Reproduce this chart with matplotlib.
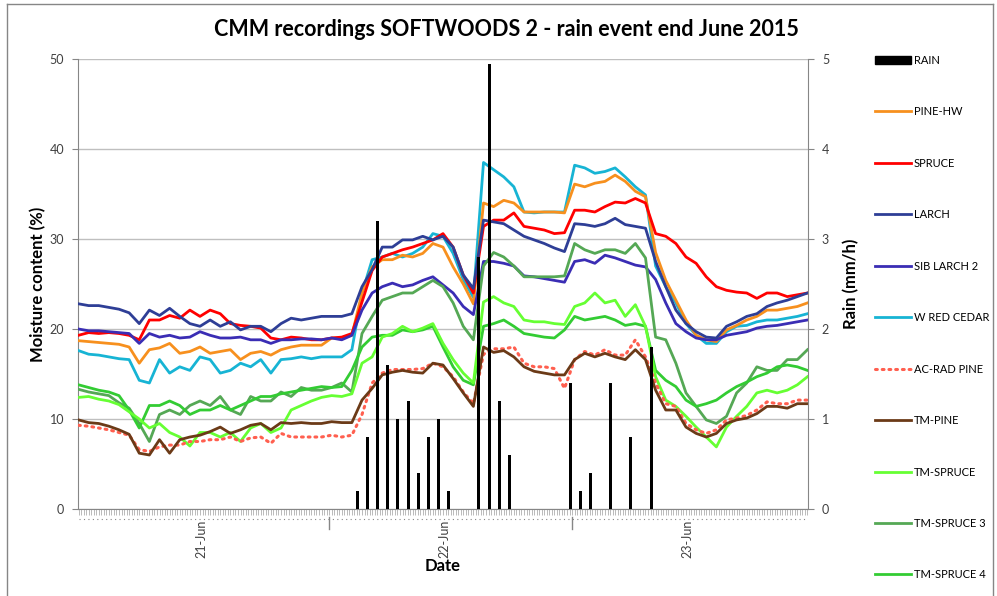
import numpy as np
import matplotlib
matplotlib.use("Agg")
import matplotlib.pyplot as plt
from matplotlib.lines import Line2D
from matplotlib.patches import Patch

plt.rcParams['font.family'] = ['Lato', 'DejaVu Sans']

# hourly readings, hours counted from 21-Jun 00:00
hours = np.arange(73) - 0.75

pine_hw = [18.7, 18.6, 18.5, 18.4, 18.3, 18.0, 16.2, 17.7, 17.9, 18.4, 17.3, 17.5, 18.0, 17.3, 17.5, 17.7, 16.6, 17.3, 17.5, 17.1, 17.7, 18.0, 18.2, 18.2, 18.2,
           19.0, 19.0, 19.3, 24.0, 26.9, 27.7, 27.7, 28.2, 28.0, 28.4, 29.5, 29.1, 26.9, 25.0, 22.8, 34.0, 33.6, 34.3, 34.0, 33.0, 33.0, 33.0, 33.0, 32.9, 36.1,
           35.8, 36.2, 36.4, 37.1, 36.4, 35.3, 34.7, 28.5, 25.4, 23.2, 21.0, 19.3, 18.8, 18.6, 19.9, 20.4, 21.0, 21.4, 22.1, 22.1, 22.3, 22.5, 22.9]
spruce = [19.3, 19.6, 19.5, 19.6, 19.5, 19.3, 18.8, 21.0, 21.0, 21.5, 21.2, 22.1, 21.4, 22.1, 21.7, 20.6, 20.4, 20.3, 20.1, 19.0, 18.8, 19.1, 19.0, 18.8, 18.8,
          19.0, 19.1, 19.5, 23.0, 26.5, 28.0, 28.4, 28.8, 29.1, 29.5, 29.9, 30.6, 29.1, 26.0, 24.0, 31.4, 32.1, 32.1, 32.9, 31.4, 31.2, 31.0, 30.6, 30.7, 33.2,
          33.2, 33.0, 33.6, 34.1, 34.0, 34.5, 34.0, 30.6, 30.3, 29.5, 28.0, 27.3, 25.8, 24.7, 24.3, 24.1, 24.0, 23.4, 24.0, 24.0, 23.6, 23.8, 24.0]
larch = [22.8, 22.6, 22.6, 22.4, 22.2, 21.8, 20.6, 22.1, 21.5, 22.3, 21.4, 20.6, 20.3, 21.0, 20.3, 20.8, 19.9, 20.3, 20.3, 19.7, 20.6, 21.2, 21.0, 21.2, 21.4,
         21.4, 21.4, 21.7, 24.7, 26.6, 29.1, 29.1, 29.9, 29.9, 30.3, 29.9, 30.3, 29.1, 26.0, 24.5, 32.1, 31.9, 31.7, 31.0, 30.3, 29.9, 29.5, 29.0, 28.6, 31.7,
         31.6, 31.4, 31.7, 32.3, 31.6, 31.4, 31.2, 27.5, 24.7, 22.1, 20.6, 19.7, 19.1, 19.0, 20.3, 20.8, 21.4, 21.7, 22.5, 22.9, 23.2, 23.6, 24.0]
sib_larch2 = [20.0, 19.8, 19.8, 19.7, 19.6, 19.5, 18.4, 19.5, 19.1, 19.3, 19.0, 19.1, 19.7, 19.3, 19.0, 19.0, 19.1, 18.8, 18.8, 18.4, 18.8, 18.8, 18.9, 18.9, 18.8,
              19.0, 18.8, 19.3, 22.1, 24.0, 24.7, 25.1, 24.7, 24.9, 25.4, 25.8, 24.9, 24.0, 22.5, 21.6, 27.5, 27.5, 27.3, 27.0, 25.9, 25.8, 25.6, 25.4, 25.2, 27.5,
              27.7, 27.3, 28.2, 27.9, 27.5, 27.1, 26.9, 25.5, 22.9, 20.6, 19.7, 19.0, 18.8, 18.8, 19.3, 19.5, 19.7, 20.1, 20.3, 20.4, 20.6, 20.8, 21.0]
w_red_cedar = [17.6, 17.2, 17.1, 16.9, 16.7, 16.6, 14.3, 14.0, 16.6, 15.1, 15.8, 15.4, 16.9, 16.6, 15.1, 15.4, 16.2, 15.8, 16.6, 15.1, 16.6, 16.7, 16.9, 16.7, 16.9,
               16.9, 16.9, 17.7, 24.0, 27.7, 28.0, 28.4, 28.0, 28.4, 29.1, 30.6, 30.3, 28.4, 25.5, 23.5, 38.5, 37.7, 36.9, 35.8, 33.0, 32.9, 33.0, 33.0, 33.0, 38.2,
               37.9, 37.3, 37.5, 37.9, 36.9, 35.8, 34.9, 27.0, 24.7, 22.9, 20.6, 19.3, 18.4, 18.4, 19.7, 20.3, 20.4, 20.8, 21.0, 21.0, 21.2, 21.4, 21.7]
ac_rad_pine = [9.3, 9.2, 9.0, 8.8, 8.5, 8.2, 6.6, 6.4, 6.9, 7.1, 7.1, 7.5, 7.5, 7.7, 7.7, 8.0, 7.5, 7.9, 8.0, 7.3, 8.4, 8.0, 8.0, 8.0, 8.0,
               8.2, 8.0, 8.2, 10.5, 14.0, 15.1, 15.5, 15.5, 15.5, 15.6, 16.2, 15.8, 14.7, 13.0, 11.7, 17.2, 17.8, 17.8, 18.0, 16.2, 15.8, 15.8, 15.6, 13.4, 16.6,
               17.5, 17.1, 17.7, 17.1, 17.1, 18.8, 16.9, 14.0, 11.7, 11.4, 9.5, 8.8, 8.4, 8.8, 9.9, 10.1, 10.4, 11.0, 11.9, 11.7, 11.7, 12.1, 12.1]
tm_pine = [9.9, 9.6, 9.5, 9.2, 8.8, 8.3, 6.2, 6.0, 7.7, 6.2, 7.7, 8.0, 8.2, 8.6, 9.1, 8.4, 8.8, 9.3, 9.5, 8.8, 9.6, 9.5, 9.6, 9.5, 9.5,
           9.7, 9.6, 9.6, 12.1, 13.4, 14.9, 15.2, 15.4, 15.2, 15.1, 16.2, 16.0, 14.5, 12.9, 11.4, 18.0, 17.4, 17.6, 16.9, 15.8, 15.3, 15.1, 14.9, 14.9, 16.6,
           17.3, 16.9, 17.3, 16.9, 16.6, 17.7, 16.6, 13.2, 11.0, 11.0, 9.1, 8.4, 8.0, 8.4, 9.5, 9.9, 10.1, 10.6, 11.4, 11.4, 11.2, 11.7, 11.7]
tm_spruce = [12.4, 12.5, 12.2, 12.0, 11.6, 10.8, 10.0, 9.0, 9.5, 8.5, 8.0, 7.0, 8.5, 8.5, 8.0, 8.5, 7.5, 9.0, 9.5, 8.5, 9.0, 11.0, 11.5, 12.0, 12.4,
             12.6, 12.5, 12.8, 16.2, 16.9, 19.1, 19.5, 20.3, 19.7, 20.1, 20.6, 18.4, 16.6, 15.1, 14.0, 23.0, 23.6, 22.9, 22.5, 21.0, 20.8, 20.8, 20.6, 20.5, 22.5,
             22.9, 24.0, 22.9, 23.2, 21.4, 22.7, 20.3, 14.7, 12.1, 11.4, 10.3, 9.1, 8.0, 6.9, 9.1, 10.3, 11.4, 12.9, 13.2, 12.9, 13.2, 13.8, 14.7]
tm_spruce3 = [13.3, 13.0, 12.8, 12.6, 11.8, 11.2, 9.5, 7.5, 10.5, 11.0, 10.5, 11.5, 12.0, 11.5, 12.5, 11.0, 10.5, 12.5, 12.0, 12.0, 13.0, 12.5, 13.5, 13.2, 13.2,
              13.5, 14.0, 13.0, 19.5, 21.4, 23.2, 23.6, 24.0, 24.0, 24.7, 25.4, 24.7, 22.9, 20.3, 18.8, 27.0, 28.5, 28.0, 27.0, 25.8, 25.8, 25.8, 25.8, 25.9, 29.5,
              28.8, 28.4, 28.8, 28.8, 28.4, 29.5, 27.9, 19.1, 18.8, 16.2, 12.9, 11.4, 9.9, 9.5, 10.3, 12.9, 14.0, 15.8, 15.4, 15.4, 16.6, 16.6, 17.7]
tm_spruce4 = [13.8, 13.5, 13.2, 13.0, 12.6, 11.0, 9.0, 11.5, 11.5, 12.0, 11.5, 10.5, 11.0, 11.0, 11.5, 11.0, 11.5, 12.0, 12.5, 12.5, 12.8, 13.0, 13.2, 13.4, 13.6,
              13.5, 13.6, 15.4, 18.0, 19.1, 19.3, 19.3, 19.9, 19.7, 19.9, 20.3, 18.0, 15.8, 14.3, 13.8, 20.3, 20.6, 21.0, 20.3, 19.5, 19.3, 19.1, 19.0, 19.9, 21.4,
              21.0, 21.2, 21.4, 21.0, 20.4, 20.6, 20.3, 15.4, 14.3, 13.6, 12.1, 11.4, 11.7, 12.1, 12.9, 13.6, 14.1, 14.7, 15.1, 15.8, 16.0, 15.8, 15.4]

rain_hours = [26.8, 27.8, 28.8, 29.8, 30.8, 31.8, 32.8, 33.8, 34.8, 35.8, 38.8, 39.8, 40.8, 41.8,
              47.8, 48.8, 49.8, 51.8, 53.8, 55.8]
rain = [0.2, 0.8, 3.2, 1.6, 1.0, 1.2, 0.4, 0.8, 1.0, 0.2, 2.8, 4.95, 1.2, 0.6,
        1.4, 0.2, 0.4, 1.4, 0.8, 1.8]

day_labels = ["21-Jun", "22-Jun", "23-Jun"]
day_label_pos = [11.4, 35.4, 59.4]
day_bounds = [24.0, 48.0]

series = [
    ("PINE-HW", pine_hw, "#F7901E", "-"),
    ("SPRUCE", spruce, "#FF0000", "-"),
    ("LARCH", larch, "#2E3E96", "-"),
    ("SIB LARCH 2", sib_larch2, "#3A2DB4", "-"),
    ("W RED CEDAR", w_red_cedar, "#17B4D4", "-"),
    ("AC-RAD PINE", ac_rad_pine, "#FF5F4F", ":"),
    ("TM-PINE", tm_pine, "#6B3A17", "-"),
    ("TM-SPRUCE", tm_spruce, "#66FF33", "-"),
    ("TM-SPRUCE 3", tm_spruce3, "#55A855", "-"),
    ("TM-SPRUCE 4", tm_spruce4, "#33CC33", "-"),
]

fig = plt.figure(figsize=(9.97, 5.96), dpi=100)
ax = fig.add_axes([78/997, 1-509/596, 730/997, 450/596])
grey = "#868686"

draw_order = [4, 0, 1, 3, 2, 8, 9, 7, 5, 6]
for i in draw_order:
    name, vals, col, ls = series[i]
    if ls == ":":
        ax.plot(hours, vals, color=col, lw=2.2, ls=(0, (0.6, 1.6)), dash_capstyle="round", zorder=3)
    else:
        ax.plot(hours, vals, color=col, lw=2.0, zorder=3)

ax.set_xlim(-0.8, 71.3)
ax.set_ylim(0, 50)
ax.set_yticks(range(0, 51, 10))
ax.yaxis.grid(True, color="#BFBFBF", lw=1)
ax.set_axisbelow(True)
for s in ["top", "right"]:
    ax.spines[s].set_visible(False)
ax.spines["left"].set_color(grey)
ax.spines["bottom"].set_color(grey)
ax.tick_params(axis="y", colors=grey, labelcolor="#404040", labelsize=9, length=4, pad=6)
ax.set_xticks(day_label_pos)
ax.set_xticklabels(day_labels, rotation=90, fontsize=9, color="#404040")
ax.tick_params(axis="x", length=0, pad=8)
ax.set_xticks(np.arange(-0.75, 71.3, 0.25), minor=True)
ax.tick_params(axis="x", which="minor", length=4, width=0.5, colors="#A0A0A0")

# dotted category separators under the axis
trans = ax.get_xaxis_transform()
ax.plot([-0.7, 71.2], [-0.022, -0.022], transform=trans, color=grey, ls=(0, (1, 3)), lw=0.8, clip_on=False)
for b in day_bounds:
    ax.plot([b, b], [-0.018, -0.045], transform=trans, color=grey, lw=1, clip_on=False)

ax.set_ylabel("Moisture content (%)", fontsize=12, fontweight="bold", labelpad=2)
ax.set_xlabel("Date", fontsize=12, fontweight="bold", labelpad=0)

ax2 = ax.twinx()
ax2.bar(rain_hours, rain, width=0.3, color="black", zorder=4)
ax2.set_ylim(0, 5)
ax2.set_xlim(-0.8, 71.3)
ax2.set_yticks(range(0, 6))
for s in ["top", "left", "bottom"]:
    ax2.spines[s].set_visible(False)
ax2.spines["right"].set_color(grey)
ax2.tick_params(axis="y", colors=grey, labelcolor="#404040", labelsize=9, length=4, pad=6)
ax2.set_ylabel("Rain (mm/h)", fontsize=12, fontweight="bold", labelpad=10)

fig.text(0.508, 1-30/596, "CMM recordings SOFTWOODS 2 - rain event end June 2015",
         ha="center", va="center", fontsize=15.5, fontweight="bold")

handles = [Patch(facecolor="black", edgecolor="black")]
labels = ["RAIN"]
for name, vals, col, ls in series:
    if ls == ":":
        handles.append(Line2D([], [], color=col, lw=2.2, ls=(0, (0.6, 1.6)), dash_capstyle="round"))
    else:
        handles.append(Line2D([], [], color=col, lw=2.0))
    labels.append(name)
fig.legend(handles, labels, loc="upper left", bbox_to_anchor=(865/997, 1-45/596), frameon=False,
           fontsize=8, labelspacing=3.64, handlelength=3.2, handleheight=0.8, handletextpad=0.3)

# outer chart border
fig.add_artist(Line2D([7/997, 7/997], [0, 1-4/596], color=grey, lw=1))
fig.add_artist(Line2D([7/997, 993/997], [1-4/596, 1-4/596], color=grey, lw=1))
fig.add_artist(Line2D([993/997, 993/997], [0, 1-4/596], color=grey, lw=1))

fig.savefig("out.png", dpi=100)
